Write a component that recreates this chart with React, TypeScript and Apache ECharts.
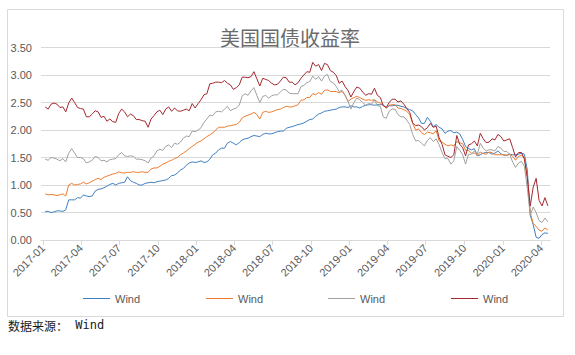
import React, { useEffect, useRef } from "react";
import * as echarts from "echarts";

// Weekly (Friday) readings from 2017-01-06 to 2020-04-17
const START = Date.UTC(2017, 0, 6);
const WEEK = 7 * 86400000;

const seriesNames = ["Wind·3M", "Wind·1Y", "Wind·3Y", "Wind·10Y"];
const legendLabel = "Wind";

const blue3m = [
  0.52,0.52,0.50,0.51, 0.53,0.53,0.52,0.55, 0.73,0.73,0.73,0.77,0.76, 0.82,0.80,0.79,0.80,
  0.89,0.92,0.93,0.95, 0.98,1.01,1.03,1.00,1.03, 1.04,1.05,1.15,1.08, 1.05,1.03,1.00,1.00,
  1.03,1.04,1.05,1.04,1.06, 1.07,1.08,1.09,1.12, 1.17,1.18,1.22,1.27, 1.30,1.36,1.40,1.42,1.41,
  1.42,1.44,1.41,1.42, 1.47,1.55,1.58,1.64, 1.67,1.67,1.76,1.79,1.76, 1.73,1.77,1.82,1.84,
  1.85,1.88,1.90,1.89, 1.88,1.92,1.94,1.93,1.93, 1.95,1.97,1.98,1.98, 2.03,2.05,2.06,2.08,2.10,
  2.11,2.13,2.16,2.19, 2.20,2.25,2.29,2.31, 2.34,2.35,2.36,2.37,2.38, 2.41,2.42,2.42,2.41,
  2.44,2.42,2.42,2.40, 2.43,2.45,2.46,2.46, 2.45,2.46,2.46,2.46,2.40, 2.44,2.44,2.45,2.45,
  2.43,2.42,2.39,2.37,2.35, 2.28,2.22,2.12,2.12, 2.23,2.16,2.06,2.10, 2.05,2.02,1.94,1.98,1.99,
  1.95,1.96,1.93,1.83, 1.70,1.66,1.64,1.66, 1.53,1.55,1.58,1.59,1.59, 1.56,1.58,1.62,1.57,
  1.54,1.54,1.56,1.55,1.55, 1.56,1.58,1.56,1.27, 0.45,0.28,0.05,0.03, 0.10,0.13,0.12,
];

const orange1y = [
  0.84,0.82,0.83,0.82, 0.81,0.82,0.84,0.80, 1.00,1.03,1.00,1.01,1.02, 1.05,1.02,1.04,1.07,
  1.10,1.12,1.10,1.14, 1.16,1.18,1.20,1.21,1.24, 1.22,1.22,1.23,1.23, 1.24,1.23,1.23,1.24,
  1.23,1.23,1.29,1.31,1.31, 1.34,1.38,1.40,1.43, 1.45,1.48,1.50,1.55, 1.58,1.62,1.66,1.70,1.74,
  1.78,1.80,1.84,1.88, 1.91,1.95,2.00,2.05, 2.05,2.05,2.07,2.08,2.09, 2.10,2.14,2.22,2.25,
  2.27,2.29,2.32,2.28, 2.20,2.32,2.34,2.32,2.33, 2.35,2.37,2.38,2.41, 2.43,2.42,2.42,2.44,2.46,
  2.54,2.55,2.59,2.59, 2.66,2.64,2.68,2.65, 2.72,2.73,2.70,2.70,2.70, 2.68,2.70,2.63,2.52,
  2.56,2.59,2.61,2.59, 2.56,2.54,2.55,2.54, 2.55,2.51,2.49,2.45,2.40, 2.45,2.46,2.46,2.40,
  2.39,2.37,2.34,2.28,2.12, 2.00,2.02,1.95,1.92, 1.96,1.95,1.93,1.99, 1.80,1.78,1.74,1.71,1.73,
  1.71,1.79,1.77,1.75, 1.63,1.63,1.58,1.58, 1.54,1.60,1.57,1.56,1.60, 1.59,1.55,1.55,1.55,
  1.55,1.54,1.56,1.52,1.45, 1.52,1.54,1.50,1.17, 0.50,0.30,0.25,0.18, 0.16,0.22,0.18,
];

const gray3y = [
  1.47,1.45,1.50,1.49, 1.47,1.44,1.48,1.42, 1.58,1.66,1.58,1.50,1.50, 1.48,1.40,1.42,1.45,
  1.52,1.50,1.44,1.45, 1.42,1.46,1.47,1.48,1.55, 1.59,1.53,1.52,1.53, 1.52,1.47,1.47,1.46,
  1.44,1.40,1.49,1.53,1.62, 1.65,1.63,1.70,1.73, 1.68,1.76,1.74,1.78, 1.85,1.89,1.88,1.98,1.97,
  2.00,2.04,2.14,2.20, 2.27,2.26,2.33,2.34, 2.33,2.38,2.43,2.35,2.38, 2.40,2.45,2.62,2.66,
  2.63,2.71,2.77,2.63, 2.50,2.61,2.63,2.58,2.62, 2.64,2.64,2.69,2.74, 2.73,2.67,2.66,2.66,2.66,
  2.79,2.81,2.86,2.88, 2.98,2.92,2.97,2.89, 2.98,3.01,2.88,2.86,2.79, 2.70,2.72,2.64,2.52,
  2.38,2.50,2.58,2.55, 2.50,2.45,2.48,2.47, 2.55,2.44,2.43,2.24,2.21, 2.34,2.38,2.38,2.28,
  2.24,2.24,2.18,2.10,1.92, 1.80,1.81,1.76,1.71, 1.81,1.86,1.79,1.84, 1.73,1.59,1.48,1.48,1.38,
  1.44,1.70,1.63,1.55, 1.38,1.56,1.56,1.62, 1.56,1.76,1.67,1.62,1.64, 1.64,1.62,1.70,1.67,
  1.61,1.61,1.56,1.42,1.32, 1.40,1.43,1.34,0.94, 0.45,0.60,0.50,0.35, 0.32,0.40,0.33,
];

const red10y = [
  2.42,2.38,2.47,2.49, 2.47,2.41,2.42,2.33, 2.49,2.58,2.50,2.41,2.39, 2.38,2.24,2.24,2.29,
  2.35,2.33,2.23,2.25, 2.16,2.20,2.15,2.14,2.30, 2.38,2.33,2.24,2.29, 2.26,2.19,2.19,2.17,
  2.16,2.05,2.20,2.26,2.33, 2.36,2.28,2.38,2.42, 2.34,2.40,2.35,2.34, 2.36,2.38,2.35,2.48,2.40,
  2.48,2.55,2.64,2.66, 2.84,2.85,2.87,2.87, 2.86,2.90,2.85,2.82,2.74, 2.77,2.82,2.96,2.96,
  2.95,2.97,3.06,2.93, 2.80,2.94,2.92,2.90,2.85, 2.82,2.83,2.89,2.96, 2.95,2.87,2.87,2.82,2.86,
  2.94,3.00,3.06,3.05, 3.23,3.16,3.19,3.08, 3.21,3.19,3.08,3.05,2.99, 2.85,2.89,2.79,2.72,
  2.60,2.70,2.78,2.76, 2.69,2.63,2.66,2.65, 2.76,2.63,2.59,2.44,2.41, 2.50,2.56,2.56,2.51,
  2.53,2.47,2.39,2.32,2.13, 2.08,2.09,2.06,2.00, 2.04,2.12,2.05,2.07, 1.86,1.74,1.55,1.52,1.50,
  1.55,1.90,1.74,1.68, 1.53,1.73,1.75,1.80, 1.71,1.94,1.84,1.77,1.78, 1.84,1.82,1.92,1.88,
  1.80,1.82,1.84,1.68,1.51, 1.59,1.59,1.47,1.13, 0.62,0.96,1.12,0.72, 0.62,0.77,0.62,
];

const yTicks = [0, 0.5, 1, 1.5, 2, 2.5, 3, 3.5];
const xTickMonths: [number, number][] = [
  [2017, 1], [2017, 4], [2017, 7], [2017, 10],
  [2018, 1], [2018, 4], [2018, 7], [2018, 10],
  [2019, 1], [2019, 4], [2019, 7], [2019, 10],
  [2020, 1], [2020, 4],
];

const colors = ["#3F7FC1", "#EC7C30", "#A0A0A0", "#A3282F"];
const FONT = "'Liberation Sans', Arial, sans-serif";

function toPairs(values: number[]) {
  return values.map((v, i) => [START + i * WEEK, v]);
}

export default function App() {
  const ref = useRef<HTMLDivElement>(null);

  useEffect(() => {
    if (!ref.current) return;
    const chart = echarts.init(ref.current, undefined, { renderer: "svg" });
    const allValues = [blue3m, orange1y, gray3y, red10y];
    const tickValues = xTickMonths.map(([y, m]) => Date.UTC(y, m - 1, 1));
    const legendLefts = [78, 201, 323, 446];

    chart.setOption({
      animation: false,
      backgroundColor: "#ffffff",
      title: {
        text: "美国国债收益率",
        left: 285,
        textAlign: "center",
        top: 22,
        textStyle: {
          fontSize: 20,
          fontWeight: "normal",
          color: "#6b6b6b",
          fontFamily: "'Noto Sans CJK SC', sans-serif",
        },
      },
      legend: seriesNames.map((n, i) => ({
        data: [n],
        left: legendLefts[i],
        top: 288,
        icon: "rect",
        itemWidth: 27,
        itemHeight: 1,
        selectedMode: false,
        formatter: () => legendLabel,
        textStyle: { fontSize: 11, color: "#595959", fontFamily: FONT },
      })),
      grid: { left: 41, right: 25, top: 47.5, bottom: 115, containLabel: false },
      xAxis: {
        type: "value",
        min: Date.UTC(2016, 11, 27),
        max: Date.UTC(2020, 3, 22),
        splitLine: { show: false },
        axisLine: { show: true, lineStyle: { color: "#D9D9D9", width: 1 } },
        axisTick: {
          show: true,
          length: 5,
          customValues: tickValues,
          lineStyle: { color: "#D9D9D9" },
        },
        axisLabel: {
          customValues: tickValues,
          rotate: 45,
          margin: 6,
          fontSize: 11,
          color: "#595959",
          fontFamily: FONT,
          formatter: (v: number) => {
            const d = new Date(v);
            const m = d.getUTCMonth() + 1;
            return d.getUTCFullYear() + "-" + (m < 10 ? "0" + m : "" + m);
          },
        },
      },
      yAxis: {
        type: "value",
        min: yTicks[0],
        max: yTicks[yTicks.length - 1],
        interval: 0.5,
        axisLine: { show: false },
        axisTick: { show: false },
        splitLine: { lineStyle: { color: "#D9D9D9", width: 1 } },
        axisLabel: {
          margin: 9,
          fontSize: 11,
          color: "#595959",
          fontFamily: FONT,
          formatter: (v: number) => v.toFixed(2),
        },
      },
      series: allValues.map((vals, i) => ({
        name: seriesNames[i],
        type: "line",
        data: toPairs(vals),
        showSymbol: false,
        symbol: "none",
        lineStyle: { width: 1, color: colors[i] },
        itemStyle: { color: colors[i] },
        emphasis: { disabled: true },
      })),
      graphic: [
        {
          type: "rect",
          shape: { x: 7.5, y: 9.5, width: 556, height: 307 },
          style: { fill: "none", stroke: "#D9D9D9", lineWidth: 1 },
          silent: true,
        },
        {
          type: "text",
          left: 8,
          top: 319,
          style: {
            text: "{a|数据来源：}{b| Wind}",
            rich: {
              a: {
                fontSize: 12,
                fill: "#1a1a1a",
                fontFamily: "'Noto Sans CJK SC', sans-serif",
              },
              b: {
                fontSize: 12,
                fill: "#1a1a1a",
                fontFamily: "'DejaVu Sans Mono', 'Liberation Mono', monospace",
              },
            },
          },
        },
      ],
    });

    return () => chart.dispose();
  }, []);

  return (
    <div
      ref={ref}
      style={{ position: "fixed", left: 0, top: 0, width: 575, height: 355 }}
    />
  );
}
